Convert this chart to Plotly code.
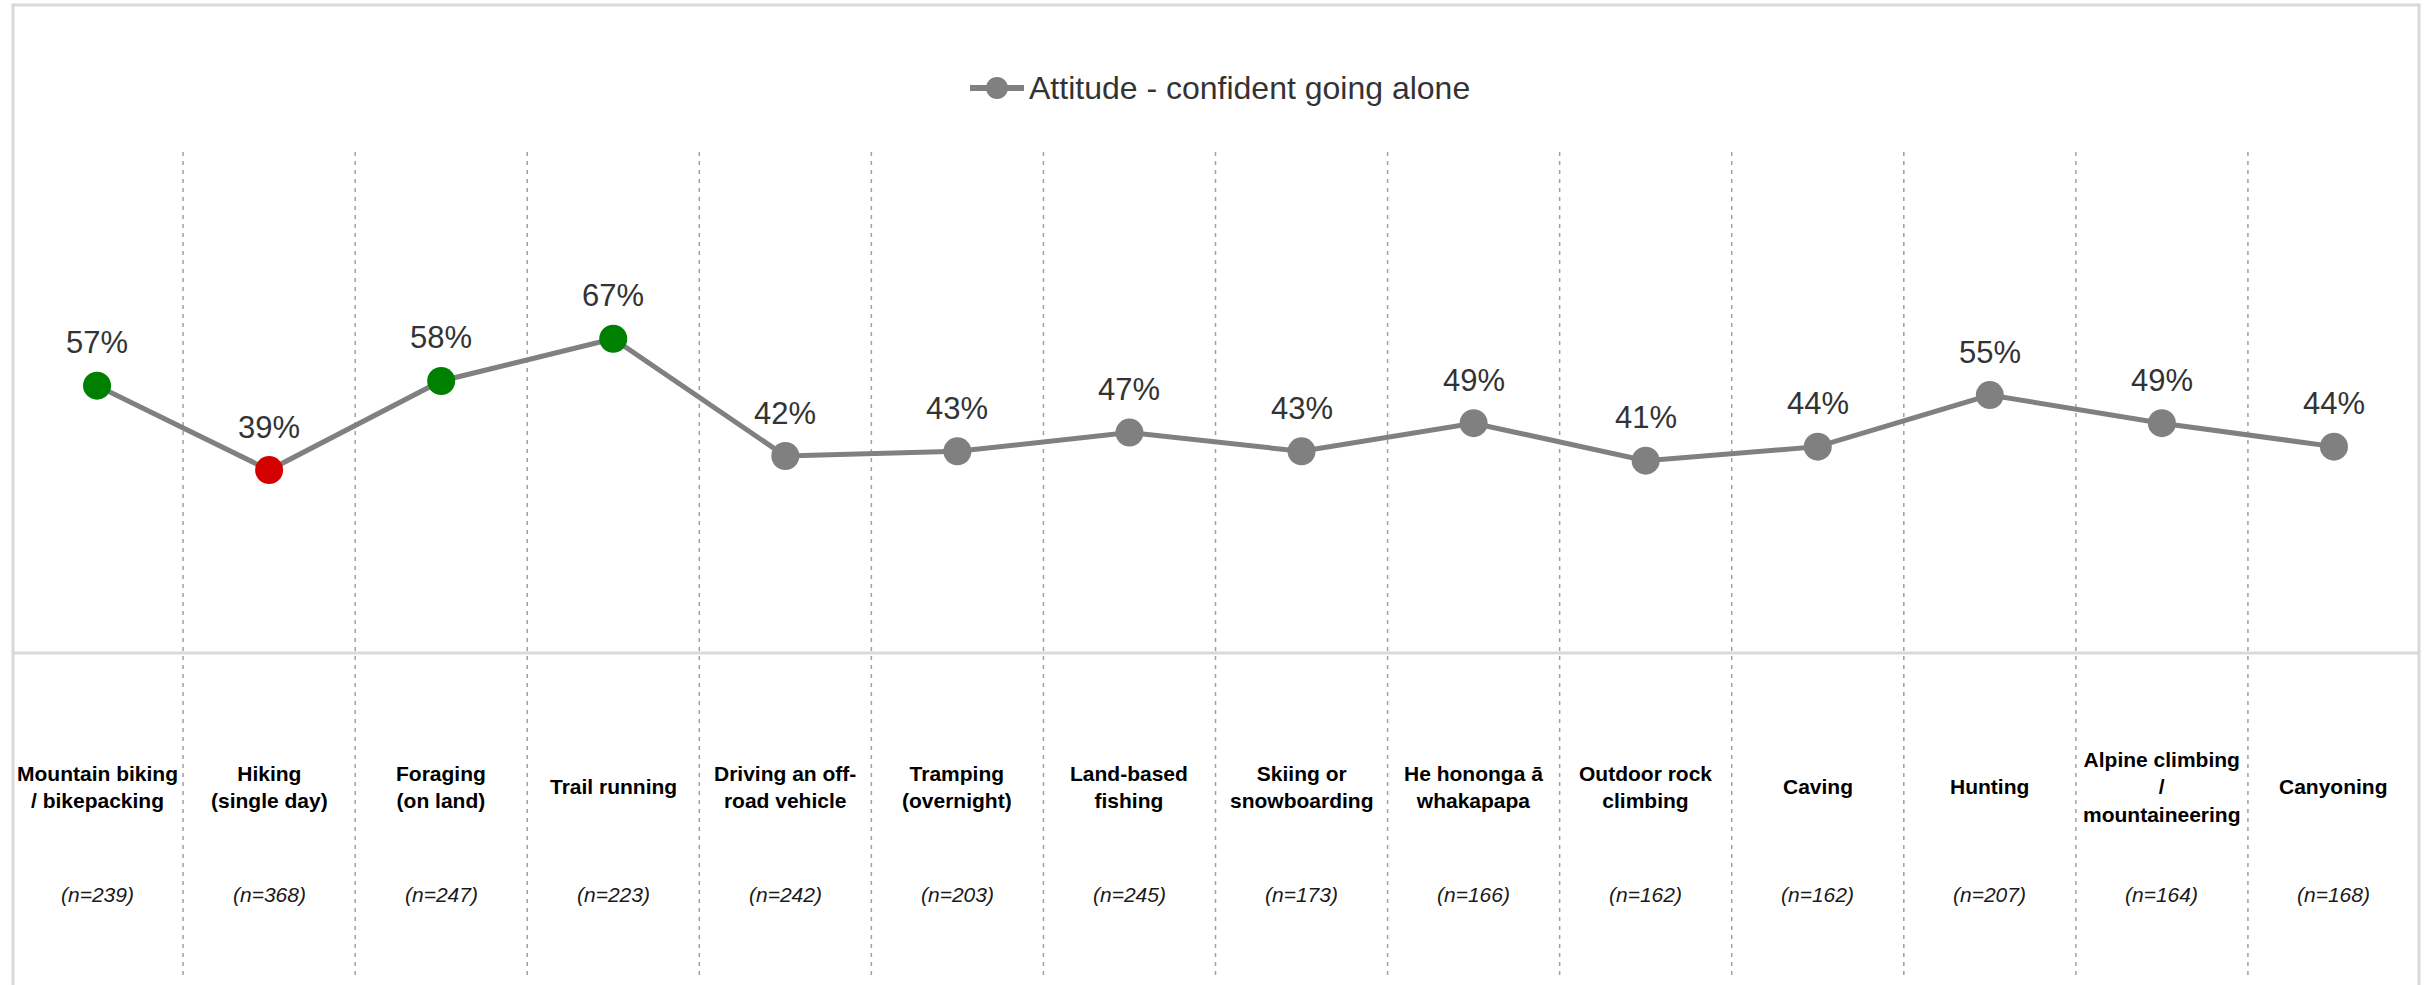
import plotly.graph_objects as go

# Activities, sample sizes and share who feel confident going alone (%)
categories = [
    "Mountain biking<br>/ bikepacking",
    "Hiking<br>(single day)",
    "Foraging<br>(on land)",
    "Trail running",
    "Driving an off-<br>road vehicle",
    "Tramping<br>(overnight)",
    "Land-based<br>fishing",
    "Skiing or<br>snowboarding",
    "He hononga ā<br>whakapapa",
    "Outdoor rock<br>climbing",
    "Caving",
    "Hunting",
    "Alpine climbing<br>/<br>mountaineering",
    "Canyoning",
]
sample_sizes = [239, 368, 247, 223, 242, 203, 245, 173, 166, 162, 162, 207, 164, 168]
confident_alone = [57, 39, 58, 67, 42, 43, 47, 43, 49, 41, 44, 55, 49, 44]
# significance vs. the average: "high", "low" or "" (no difference)
significance = ["high", "low", "high", "high", "", "", "", "", "", "", "", "", "", ""]

series_name = "Attitude - confident going alone"

W, H = 2425, 985
M_L, M_R, M_T, M_B = 11, 5, 184, 332
PLOT_W = W - M_L - M_R
PLOT_H = H - M_T - M_B
FONT = "Liberation Sans, Arial, sans-serif"
LINE_GREY = "#808080"


def px_x(p):
    return (p - M_L) / PLOT_W


def px_y(p):
    return (H - M_B - p) / PLOT_H


sig_colors = {"high": "#008000", "low": "#d40000", "": LINE_GREY}
marker_colors = [sig_colors[s] for s in significance]
xs = list(range(len(categories)))

fig = go.Figure()
fig.add_trace(go.Scatter(
    x=xs,
    y=confident_alone,
    mode="lines+markers",
    name=series_name,
    line=dict(color=LINE_GREY, width=5),
    marker=dict(size=28, color=marker_colors, line=dict(width=0)),
    cliponaxis=False,
    hoverinfo="skip",
    showlegend=False,
))

shapes = []
# outer frame
shapes.append(dict(type="rect", xref="paper", yref="paper",
                   x0=px_x(13), x1=px_x(2419), y0=px_y(1000), y1=px_y(5),
                   line=dict(color="#d9d9d9", width=3), layer="below"))
# separator between chart and label rows
shapes.append(dict(type="line", xref="paper", yref="paper",
                   x0=px_x(13), x1=px_x(2419), y0=0, y1=0,
                   line=dict(color="#d9d9d9", width=3), layer="below"))
# dashed dividers between activities
for i in range(len(categories) - 1):
    shapes.append(dict(type="line", xref="x", yref="paper",
                       x0=i + 0.5, x1=i + 0.5, y0=px_y(975), y1=px_y(151),
                       line=dict(color="#a0a0a0", width=1.5, dash="4px,5px"),
                       layer="below"))

# series key at the top: line with a dot, followed by the series name
key_y = px_y(88)
shapes.append(dict(type="line", xref="paper", yref="paper",
                   x0=px_x(970), x1=px_x(1024), y0=key_y, y1=key_y,
                   line=dict(color=LINE_GREY, width=6)))
shapes.append(dict(type="circle", xref="paper", yref="paper",
                   x0=px_x(986), x1=px_x(1008), y0=px_y(99), y1=px_y(77),
                   fillcolor=LINE_GREY, line=dict(width=0)))

annotations = [dict(x=px_x(1027), y=key_y, xref="paper", yref="paper",
                    text=series_name, showarrow=False,
                    xanchor="left", yanchor="middle",
                    font=dict(family=FONT, size=32, color="#333333"))]
for i, v in enumerate(confident_alone):
    annotations.append(dict(x=i, y=v, xref="x", yref="y", text=f"{v}%",
                            showarrow=False, yshift=43,
                            font=dict(family=FONT, size=31, color="#333333")))
for i, c in enumerate(categories):
    annotations.append(dict(x=i, y=px_y(787), xref="x", yref="paper",
                            text=f"<b>{c}</b>", showarrow=False,
                            yanchor="middle", align="center",
                            font=dict(family=FONT, size=21, color="#000000")))
for i, n in enumerate(sample_sizes):
    annotations.append(dict(x=i, y=px_y(894), xref="x", yref="paper",
                            text=f"<i>(n={n})</i>", showarrow=False,
                            yanchor="middle",
                            font=dict(family=FONT, size=21, color="#1a1a1a")))

fig.update_layout(
    width=W, height=H,
    margin=dict(l=M_L, r=M_R, t=M_T, b=M_B, pad=0),
    paper_bgcolor="white",
    plot_bgcolor="white",
    showlegend=False,
    xaxis=dict(range=[-0.5, len(categories) - 0.5], showgrid=False,
               zeroline=False, showticklabels=False, showline=False,
               fixedrange=True),
    yaxis=dict(range=[0, 100], showgrid=False, zeroline=False,
               showticklabels=False, showline=False, fixedrange=True),
    shapes=shapes,
    annotations=annotations,
    font=dict(family=FONT),
)

fig.write_html("out.html")
